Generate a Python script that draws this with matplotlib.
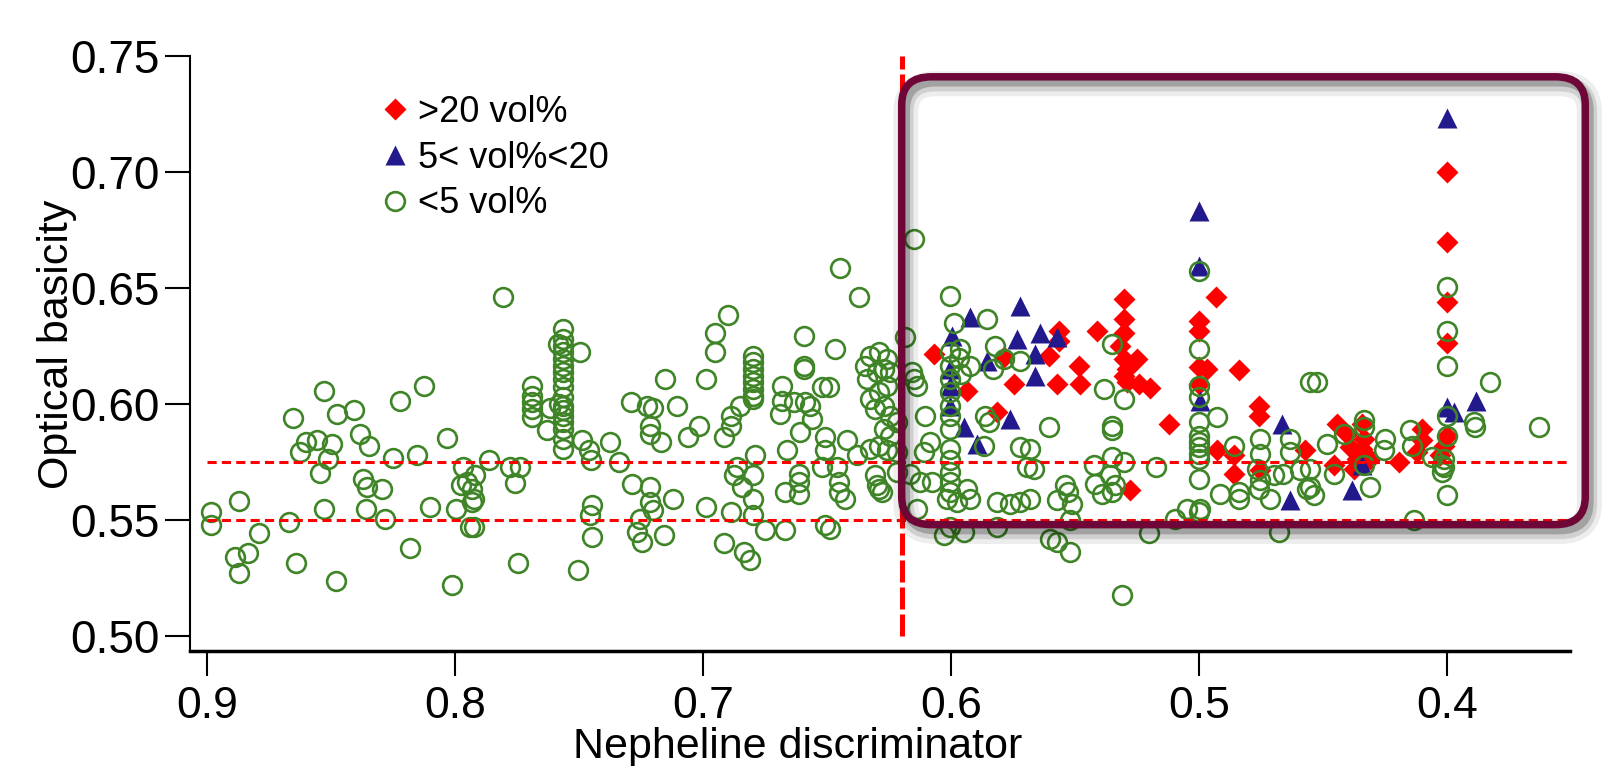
import numpy as np
import matplotlib
matplotlib.use("Agg")
import matplotlib.pyplot as plt
from matplotlib.patches import FancyBboxPatch
import matplotlib.patheffects as pe

plt.rcParams['font.family'] = ['Liberation Sans', 'DejaVu Sans']

# >20 vol% nepheline
red_x = [0.6071, 0.5937, 0.5816, 0.5789, 0.5749,
         0.5567, 0.5567, 0.5608, 0.5574, 0.5487, 0.5480, 0.5413,
         0.5305, 0.5305, 0.5305, 0.5320, 0.5305, 0.5290, 0.5305, 0.5290,
         0.5251, 0.5245, 0.5198, 0.5278, 0.5124,
         0.5003, 0.5003, 0.5003, 0.4969, 0.5003, 0.4932, 0.4842,
         0.4929, 0.4862, 0.4862, 0.4761, 0.4761, 0.4754, 0.4573,
         0.4001, 0.4001, 0.4001, 0.4001, 0.4001, 0.4015, 0.4028, 0.4102, 0.4102,
         0.4122, 0.4196, 0.4445, 0.4404, 0.4344, 0.4337, 0.4391, 0.4344, 0.4364,
         0.4311, 0.4378, 0.4458]
red_y = [0.6215, 0.6057, 0.5964, 0.6201, 0.6086,
         0.6315, 0.6272, 0.6208, 0.6086, 0.6165, 0.6086, 0.6315,
         0.6451, 0.6366, 0.6308, 0.6251, 0.6194, 0.6151, 0.6122, 0.6094,
         0.6194, 0.6086, 0.6068, 0.5628, 0.5914,
         0.6358, 0.6315, 0.6158, 0.6151, 0.6086, 0.6461, 0.6146,
         0.5800, 0.5778, 0.5699, 0.5993, 0.5950, 0.5714, 0.5800,
         0.6999, 0.6699, 0.6440, 0.6262, 0.5864, 0.5821, 0.5778, 0.5893, 0.5843,
         0.5793, 0.5750, 0.5914, 0.5871, 0.5914, 0.5850, 0.5814, 0.5807, 0.5764,
         0.5764, 0.5721, 0.5735]

# 5 < vol% < 20
blue_x = [0.5997, 0.5923, 0.5722, 0.5735, 0.5641, 0.5574, 0.5661, 0.5661, 0.5856,
          0.6004, 0.6004, 0.6004, 0.5950, 0.5896, 0.5762,
          0.5003, 0.5003, 0.4996, 0.4667, 0.4633,
          0.4001, 0.4001, 0.3975, 0.3883, 0.4384, 0.4344]
blue_y = [0.6294, 0.6373, 0.6423, 0.6280, 0.6308, 0.6287, 0.6215, 0.6122, 0.6186,
          0.6151, 0.6079, 0.5993, 0.5900, 0.5828, 0.5936,
          0.6831, 0.6594, 0.6014, 0.5914, 0.5585,
          0.7232, 0.5986, 0.5964, 0.6014, 0.5628, 0.5735]

# <5 vol%
green_x = [0.8984, 0.8984, 0.8870, 0.8790, 0.8890, 0.8836, 0.8870,
           0.8654, 0.8624, 0.8602, 0.8556, 0.8497, 0.8515, 0.8544,
           0.8531, 0.8476, 0.8410, 0.8386, 0.8348, 0.8528, 0.8672,
           0.8641, 0.8481, 0.8372, 0.8356, 0.8297, 0.8359, 0.8282,
           0.8251, 0.8154, 0.8224, 0.8128, 0.8034, 0.8181, 0.8100,
           0.7997, 0.8013, 0.7970, 0.7977, 0.7953, 0.7933, 0.7933, 0.7939,
           0.7920, 0.7926, 0.7926, 0.7862, 0.7808, 0.7778, 0.7740, 0.7761, 0.7747,
           0.7691, 0.7691, 0.7691, 0.7691, 0.7691, 0.7631, 0.7617,
           0.7566, 0.7566, 0.7566, 0.7566, 0.7566, 0.7566, 0.7566, 0.7566, 0.7566,
           0.7566, 0.7566, 0.7566, 0.7566, 0.7566, 0.7566, 0.7566, 0.7566,
           0.7585, 0.7580,
           0.7496, 0.7490, 0.7462, 0.7453, 0.7449, 0.7456, 0.7449, 0.7507,
           0.7375, 0.7339, 0.7290, 0.7287, 0.7227, 0.7203, 0.7214, 0.7214, 0.7171,
           0.7214, 0.7214, 0.7203, 0.7254, 0.7267, 0.7247, 0.7160, 0.7122,
           0.7156, 0.7107, 0.7063, 0.7019, 0.6988, 0.6952, 0.6952, 0.6900,
           0.6988, 0.6918, 0.6887, 0.6918, 0.6887, 0.6887, 0.6851, 0.6878, 0.6864,
           0.6844, 0.6835,
           0.6800, 0.6800, 0.6800, 0.6800, 0.6800, 0.6800, 0.6800, 0.6800,
           0.6790, 0.6798, 0.6798, 0.6798, 0.6810,
           0.6683, 0.6683, 0.6690, 0.6636, 0.6589, 0.6569, 0.6562, 0.6609,
           0.6595, 0.6595, 0.6595, 0.6663, 0.6616, 0.6616, 0.6616, 0.6669,
           0.6750, 0.6669, 0.6521, 0.6495, 0.6508, 0.6508, 0.6521, 0.6468,
           0.6448, 0.6374, 0.6461, 0.6454, 0.6454, 0.6427, 0.6508, 0.6488,
           0.6421, 0.6380,
           0.6347, 0.6327, 0.6293, 0.6259, 0.6340, 0.6300, 0.6273, 0.6246,
           0.6327, 0.6293, 0.6259, 0.6306, 0.6273, 0.6246, 0.6273, 0.6246,
           0.6327, 0.6293, 0.6259, 0.6219, 0.6219, 0.6306, 0.6300, 0.6280, 0.6293,
           0.6152, 0.6185, 0.6160, 0.6150, 0.6140, 0.6219, 0.6165, 0.6138, 0.6125,
           0.6105, 0.6085, 0.6112, 0.6078, 0.6004, 0.5991,
           0.6004, 0.6004, 0.6004, 0.6004, 0.6004, 0.6004, 0.6004, 0.6004,
           0.6004, 0.6004, 0.6004, 0.6004,
           0.5970, 0.5960, 0.5964, 0.5923, 0.5856, 0.5823, 0.5789, 0.5830, 0.5722,
           0.5863, 0.5850, 0.5870, 0.6004, 0.5950, 0.6031, 0.5937, 0.5923, 0.5977,
           0.6018, 0.5816, 0.5816, 0.5762, 0.5722, 0.5695, 0.5722,
           0.5681, 0.5668, 0.5681, 0.5608, 0.5601, 0.5574, 0.5574, 0.5540, 0.5530,
           0.5513, 0.5520, 0.5520,
           0.5352, 0.5386, 0.5305, 0.5352, 0.5352, 0.5426, 0.5352, 0.5305, 0.5419,
           0.5359, 0.5339, 0.5392, 0.5352,
           0.5312, 0.5204, 0.5173, 0.5097, 0.5050, 0.4996, 0.5003,
           0.5003, 0.5003, 0.5003, 0.5003, 0.5003, 0.5003, 0.5003, 0.5003,
           0.5003, 0.5003, 0.5003,
           0.4929, 0.4915, 0.4862, 0.4842, 0.4842, 0.4754, 0.4754, 0.4767, 0.4754,
           0.4761, 0.4714, 0.4700, 0.4661, 0.4680, 0.4633, 0.4633, 0.4593, 0.4552,
           0.4566,
           0.4525, 0.4485, 0.4418, 0.4337, 0.4337, 0.4250, 0.4257, 0.4149, 0.4142,
           0.4552, 0.4552, 0.4539, 0.4458, 0.4337, 0.4311, 0.4136, 0.4062,
           0.4022, 0.4022, 0.4001, 0.4001, 0.4001, 0.4001, 0.4001, 0.4001,
           0.4015, 0.4015, 0.3894, 0.3890, 0.3827, 0.3632]
green_y = [0.5535, 0.5477, 0.5580, 0.5446, 0.5341, 0.5359, 0.5270,
           0.5939, 0.5793, 0.5838, 0.5843, 0.5829, 0.5764, 0.5702,
           0.6057, 0.5957, 0.5976, 0.5871, 0.5818, 0.5549, 0.5492,
           0.5316, 0.5237, 0.5678, 0.5642, 0.5632, 0.5549, 0.5506,
           0.5767, 0.5778, 0.6014, 0.6076, 0.5853, 0.5380, 0.5556,
           0.5546, 0.5220, 0.5728, 0.5650, 0.5664, 0.5635, 0.5578, 0.5470,
           0.5692, 0.5592, 0.5470, 0.5757, 0.6459, 0.5728, 0.5728, 0.5661, 0.5313,
           0.6079, 0.6036, 0.6007, 0.5979, 0.5943, 0.5886, 0.5982,
           0.6322, 0.6280, 0.6251, 0.6222, 0.6194, 0.6165, 0.6137, 0.6108, 0.6072,
           0.6029, 0.5993, 0.5972, 0.5950, 0.5922, 0.5893, 0.5850, 0.5807,
           0.6260, 0.6000,
           0.6222, 0.5843, 0.5800, 0.5757, 0.5563, 0.5520, 0.5427, 0.5284,
           0.5836, 0.5750, 0.6010, 0.5656, 0.5993, 0.5982, 0.5904, 0.5871, 0.5838,
           0.5642, 0.5578, 0.5542, 0.5506, 0.5449, 0.5406, 0.5434, 0.5592,
           0.6108, 0.5993, 0.5857, 0.5907, 0.6108, 0.6308, 0.6222, 0.6384,
           0.5556, 0.5399, 0.5535, 0.5857, 0.5907, 0.5950, 0.5993, 0.5692, 0.5728,
           0.5642, 0.5363,
           0.6208, 0.6180, 0.6151, 0.6122, 0.6094, 0.6065, 0.6036, 0.6022,
           0.5778, 0.5692, 0.5592, 0.5520, 0.5327,
           0.6079, 0.6014, 0.5957, 0.6007, 0.6007, 0.5993, 0.5936, 0.5879,
           0.6294, 0.6165, 0.6151, 0.5800, 0.5699, 0.5664, 0.5613, 0.5621,
           0.5456, 0.5456, 0.6072, 0.6072, 0.5857, 0.5800, 0.5728, 0.6237,
           0.6588, 0.6459, 0.5728, 0.5664, 0.5621, 0.5592, 0.5477, 0.5463,
           0.5843, 0.5778,
           0.6165, 0.6208, 0.6222, 0.6194, 0.6108, 0.6137, 0.6151, 0.6137,
           0.6022, 0.6050, 0.6079, 0.5979, 0.5993, 0.5950, 0.5893, 0.5864,
           0.5807, 0.5821, 0.5800, 0.5793, 0.5922, 0.5692, 0.5649, 0.5621, 0.5635,
           0.6709, 0.6287, 0.6137, 0.6108, 0.6079, 0.5707, 0.5699, 0.5549, 0.5664,
           0.5950, 0.5836, 0.5793, 0.5664, 0.6466, 0.6351,
           0.6222, 0.6165, 0.6108, 0.6050, 0.5993, 0.5950, 0.5893, 0.5807,
           0.5757, 0.5706, 0.5664, 0.5621,
           0.6200, 0.6130, 0.6237, 0.6165, 0.6366, 0.6251, 0.6194, 0.6151, 0.6186,
           0.5950, 0.5922, 0.5821, 0.5470, 0.5449, 0.5434, 0.5635, 0.5592, 0.5578,
           0.5592, 0.5578, 0.5470, 0.5570, 0.5814, 0.5728, 0.5578,
           0.5807, 0.5721, 0.5592, 0.5900, 0.5420, 0.5406, 0.5585, 0.5649, 0.5621,
           0.5570, 0.5499, 0.5363,
           0.6258, 0.6065, 0.6022, 0.5907, 0.5886, 0.5735, 0.5771, 0.5750, 0.5656,
           0.5692, 0.5649, 0.5614, 0.5621,
           0.5176, 0.5442, 0.5728, 0.5506, 0.5549, 0.5549, 0.5534,
           0.6573, 0.6237, 0.6079, 0.6029, 0.5922, 0.5864, 0.5836, 0.5814,
           0.5785, 0.5764, 0.5678,
           0.5943, 0.5614, 0.5821, 0.5621, 0.5592, 0.5850, 0.5785, 0.5721, 0.5671,
           0.5635, 0.5592, 0.5692, 0.5699, 0.5449, 0.5850, 0.5793, 0.5714, 0.6093,
           0.5635,
           0.6096, 0.5828, 0.5871, 0.5929, 0.5900, 0.5850, 0.5800, 0.5886, 0.5821,
           0.5721, 0.5642, 0.5606, 0.5699, 0.5735, 0.5642, 0.5499, 0.5771,
           0.5735, 0.5707, 0.6502, 0.6315, 0.6165, 0.5950, 0.5864, 0.5606,
           0.5764, 0.5728, 0.5921, 0.5900, 0.6093, 0.5900]

labels = ['>20 vol%', '5< vol%<20', '<5 vol%']
x_ticks = [0.9, 0.8, 0.7, 0.6, 0.5, 0.4]
y_ticks = [0.50, 0.55, 0.60, 0.65, 0.70, 0.75]
x_cut = 0.62
y_cuts = [0.575, 0.55]

fig = plt.figure(figsize=(16.09, 7.66), dpi=100)
ax = fig.add_axes([0.118, 0.150, 0.858, 0.777])

ax.plot(red_x, red_y, 'D', ms=11.5, color='#ff0000', mec='none', label=labels[0])
ax.plot(blue_x, blue_y, '^', ms=15, color='#221a8c', mec='none', label=labels[1])
ax.plot(green_x, green_y, 'o', ms=13.5, mfc='none', mec='#3f8527', mew=1.9, label=labels[2])

# reference lines
ax.hlines(y_cuts, 0.9, 0.3504, colors='#ff0000', lw=2.2, linestyles=(0, (3, 1.7)), zorder=4)
ax.vlines(x_cut, 0.50, 0.75, colors='#ff0000', lw=3.6, linestyles=(0, (4.4, 1.0)), zorder=4)

# highlighted region
box = FancyBboxPatch((0.3444, 0.548), x_cut - 0.3444, 0.741 - 0.548,
                     boxstyle='round,pad=0,rounding_size=0.012',
                     fill=False, ec='#6e0638', lw=5.4, clip_on=False, zorder=5)
box.set_path_effects([pe.SimpleLineShadow(offset=(3, -5), shadow_color='k', alpha=0.07, rho=1, linewidth=18),
                      pe.SimpleLineShadow(offset=(3, -5), shadow_color='k', alpha=0.12, rho=1, linewidth=11),
                      pe.SimpleLineShadow(offset=(3, -4), shadow_color='k', alpha=0.22, rho=1, linewidth=6),
                      pe.Normal()])
ax.add_patch(box)

ax.set_xlim(0.907, 0.3504)
ax.set_ylim(0.4935, 0.75)
ax.set_xticks(x_ticks)
ax.set_xticklabels(['%.1f' % v for v in x_ticks])
ax.set_yticks(y_ticks)
ax.set_yticklabels(['%.2f' % v for v in y_ticks])
ax.tick_params(axis='both', direction='out', length=18, width=1.5, labelsize=32)
ax.tick_params(axis='x', pad=7)
ax.tick_params(axis='y', pad=4, labelsize=33)
for s in ['top', 'right']:
    ax.spines[s].set_visible(False)
ax.spines['left'].set_linewidth(1.5)
ax.spines['bottom'].set_linewidth(2.5)

ax.set_xlabel('Nepheline discriminator', fontsize=31)
ax.xaxis.set_label_coords(0.44, -0.128)
ax.set_ylabel('Optical basicity', fontsize=31)
ax.yaxis.set_label_coords(-0.082, 0.515)

ax.legend(loc='upper left', bbox_to_anchor=(0.125, 0.965), frameon=False, fontsize=26,
          handlelength=0.8, handletextpad=0.25, labelspacing=0.3, borderpad=0)

fig.savefig('out.png', dpi=100)
